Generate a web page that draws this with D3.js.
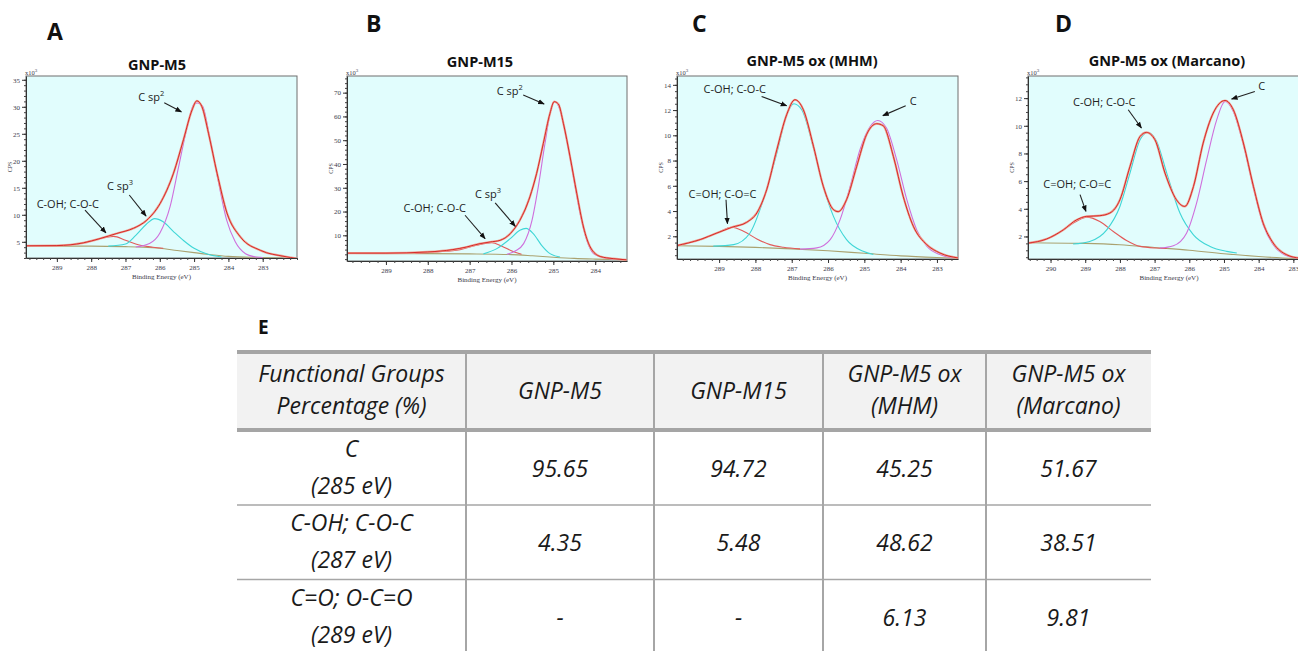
<!DOCTYPE html>
<html lang="en">
<head>
<meta charset="UTF-8" />
<title>XPS C1s - GNP samples</title>
<script src="https://d3js.org/d3.v7.min.js"></script>
<style>
  body { margin: 0; background: #fff; }
  svg { display: block; }
</style>
</head>
<body>
<svg id="fig" width="1298" height="651"></svg>
<script>
// spectra: [binding energy (eV), counts x10^3]
// A - GNP-M5
const aEnvelope = [[289.9,4.26],[289.0,4.3],[288.23,4.8],[287.74,5.6],[287.25,6.55],[286.77,7.5],[286.38,9.0],[285.99,12.1],[285.6,17.7],[285.31,23.9],[285.06,29.4],[284.92,31.1],[284.77,30.0],[284.58,25.1],[284.33,17.7],[284.04,10.3],[283.65,5.9],[283.06,3.4],[282.38,2.3],[282.0,1.9]];
const aBackground = [[289.9,4.2],[288.0,4.2],[287.0,4.1],[286.5,4.0],[286.0,3.8],[285.5,3.4],[285.0,3.0],[284.5,2.6],[284.0,2.3],[283.0,2.1],[282.0,1.9]];
const aCsp2 = [[286.7,4.05],[286.3,4.7],[286.0,6.6],[285.7,11.5],[285.45,18.9],[285.2,26.3],[285.0,30.5],[284.9,30.7],[284.75,30.1],[284.55,24.5],[284.3,16.4],[284.05,9.0],[283.8,5.0],[283.5,2.8],[283.2,2.2],[283.0,2.1]];
const aCsp3 = [[287.5,4.2],[287.0,4.6],[286.7,6.2],[286.4,8.2],[286.15,9.3],[285.9,8.7],[285.6,6.9],[285.3,5.2],[285.0,3.8],[284.6,2.7],[284.2,2.2]];
const aCOH = [[289.9,4.25],[289.0,4.3],[288.5,4.5],[288.0,5.2],[287.6,5.8],[287.35,6.0],[287.0,5.3],[286.6,4.4],[286.2,4.0],[285.9,3.8]];

// B - GNP-M15
const bEnvelope = [[289.93,2.5],[289.0,2.5],[288.0,3.0],[287.4,4.0],[287.07,5.1],[286.75,6.5],[286.51,7.2],[286.27,7.9],[286.03,10.7],[285.8,16.3],[285.56,26.2],[285.4,36.0],[285.24,48.6],[285.08,61.3],[284.98,66.2],[284.88,65.2],[284.76,57.1],[284.6,43.0],[284.44,27.6],[284.28,13.5],[284.12,5.1],[283.88,1.1],[283.57,0.2],[283.25,-0.3]];
const bBackground = [[289.93,2.4],[288.0,2.3],[287.0,2.2],[286.0,1.9],[285.5,1.4],[285.0,0.8],[284.5,0.3],[284.0,0.0],[283.25,-0.3]];
const bCsp2 = [[286.11,2.0],[285.91,3.4],[285.71,6.5],[285.51,16.3],[285.36,30.4],[285.2,48.6],[285.04,64.1],[284.96,66.2],[284.84,62.7],[284.68,50.0],[284.52,34.6],[284.36,19.1],[284.2,7.9],[284.04,2.3],[283.8,0.6],[283.57,0.0]];
const bCsp3 = [[286.67,2.2],[286.35,4.4],[286.03,8.6],[285.8,12.1],[285.65,12.9],[285.48,10.7],[285.28,5.8],[285.08,2.3],[284.84,0.9]];
const bCOH = [[288.3,2.4],[287.78,3.0],[287.23,4.0],[286.83,5.8],[286.47,6.9],[286.23,5.4],[285.99,3.4],[285.76,2.0]];

// C - GNP-M5 ox (MHM)
const cEnvelope = [[290.17,1.26],[289.52,1.74],[289.06,2.26],[288.65,2.71],[288.24,3.11],[287.96,3.85],[287.69,5.69],[287.41,8.86],[287.14,11.63],[286.91,12.82],[286.68,12.03],[286.4,9.12],[286.13,5.96],[285.85,4.11],[285.72,3.95],[285.49,4.9],[285.21,7.54],[284.94,10.05],[284.66,10.92],[284.48,10.76],[284.2,8.33],[283.93,5.17],[283.65,2.79],[283.28,1.34],[282.92,0.68],[282.41,0.28]];
const cBackground = [[290.17,1.25],[289.0,1.2],[288.0,1.12],[287.0,1.0],[286.0,0.85],[285.0,0.65],[284.0,0.45],[283.0,0.32],[282.41,0.26]];
const cCOO = [[290.17,1.26],[289.52,1.74],[289.06,2.26],[288.65,2.71],[288.33,2.4],[287.96,1.79],[287.6,1.34],[287.23,1.13],[286.77,1.0]];
const cCOH = [[289.16,1.22],[288.6,1.34],[288.15,2.26],[287.78,4.9],[287.41,8.6],[287.14,11.6],[286.94,12.5],[286.72,12.0],[286.4,9.0],[286.13,5.96],[285.85,3.58],[285.49,1.74],[285.03,0.81],[284.75,0.55]];
const cC = [[286.77,0.98],[286.31,1.08],[285.94,1.74],[285.67,3.3],[285.39,5.96],[285.12,8.86],[284.84,10.7],[284.63,11.18],[284.39,10.58],[284.11,8.07],[283.83,4.9],[283.56,2.53],[283.28,1.21],[282.92,0.55],[282.55,0.28]];

// D - GNP-M5 ox (Marcano)
const dEnvelope = [[290.64,1.52],[290.12,1.81],[289.63,2.48],[289.25,3.2],[288.96,3.45],[288.58,3.5],[288.29,3.69],[288.0,4.65],[287.71,7.06],[287.42,9.23],[287.23,9.52],[286.99,8.99],[286.7,6.58],[286.37,4.65],[286.13,4.17],[285.88,5.61],[285.6,8.75],[285.31,10.92],[284.97,11.83],[284.73,11.16],[284.44,8.75],[284.15,5.61],[283.87,2.96],[283.58,1.52],[283.19,0.67],[282.81,0.43],[282.6,0.4]];
const dBackground = [[290.64,1.55],[289.0,1.5],[288.0,1.4],[287.0,1.2],[286.0,1.0],[285.0,0.75],[284.0,0.55],[283.0,0.42],[282.6,0.4]];
const dCOO = [[290.64,1.52],[290.12,1.81],[289.63,2.48],[289.25,3.1],[288.96,3.4],[288.58,3.08],[288.19,2.36],[287.81,1.71],[287.42,1.28],[286.94,1.16],[286.65,1.13]];
const dCOH = [[289.35,1.45],[288.87,1.64],[288.38,2.48],[288.0,4.17],[287.71,6.58],[287.42,8.99],[287.2,9.52],[286.94,8.87],[286.65,6.58],[286.27,3.69],[285.88,2.12],[285.4,1.28],[284.92,0.92],[284.63,0.8]];
const dC = [[286.85,1.16],[286.46,1.33],[286.08,2.24],[285.79,4.41],[285.5,7.54],[285.21,10.43],[284.97,11.76],[284.73,11.04],[284.44,8.63],[284.15,5.49],[283.87,2.84],[283.58,1.4],[283.19,0.6],[282.81,0.41]];

// axis ticks
const xTicksA = [289, 288, 287, 286, 285, 284, 283];
const xTicksB = [289, 288, 287, 286, 285, 284];
const xTicksC = [289, 288, 287, 286, 285, 284, 283];
const xTicksD = [290, 289, 288, 287, 286, 285, 284, 283];
const yTicksA = [5, 10, 15, 20, 25, 30, 35];
const yTicksB = [10, 20, 30, 40, 50, 60, 70];
const yTicksC = [2, 4, 6, 8, 10, 12, 14];
const yTicksD = [2, 4, 6, 8, 10, 12];

// table E
const tableHeader = [["Functional Groups", "Percentage (%)"], ["GNP-M5"], ["GNP-M15"], ["GNP-M5 ox", "(MHM)"], ["GNP-M5 ox", "(Marcano)"]];
const groupNames = ["C", "C-OH; C-O-C", "C=O; O-C=O"];
const groupEnergies = ["(285 eV)", "(287 eV)", "(289 eV)"];
const pctC = ["95.65", "94.72", "45.25", "51.67"];
const pctCOH = ["4.35", "5.48", "48.62", "38.51"];
const pctCOO = ["-", "-", "6.13", "9.81"];

const RED = "#d21c1c", SALMON = "#eda597", MAGENTA = "#cf6fdc", CYAN = "#3fd6d6", OLIVE = "#aaa270", COMP_RED = "#e25a5a";

const panels = [
    { letter: "A", lx: 47, ly: 40, title: "GNP-M5", tx: 157, ty: 70, box: [26, 297, 76, 258], xDom: [289.9, 282.0], yDom: [2, 35.7],
      xTicks: xTicksA, yTicks: yTicksA, yMinor: 1,
      comps: [[aBackground, OLIVE], [aCOH, COMP_RED], [aCsp3, CYAN], [aCsp2, MAGENTA]], env: aEnvelope,
      notes: [
          { text: "C sp", sup: "2", at: [286.63, 31.0], from: [285.87, 30.73], to: [285.37, 29.06] },
          { text: "C sp", sup: "3", at: [287.54, 14.6], from: [286.89, 13.66], to: [286.40, 9.77] },
          { text: "C-OH; C-O-C", at: [289.59, 11.25], from: [288.18, 10.88], to: [287.57, 6.67] }] },
    { letter: "B", lx: 366, ly: 32, title: "GNP-M15", tx: 480, ty: 67, box: [347, 627, 76, 261], xDom: [289.93, 283.24], yDom: [-0.8, 77],
      xTicks: xTicksB, yTicks: yTicksB, yMinor: 2,
      comps: [[bBackground, OLIVE], [bCOH, COMP_RED], [bCsp3, CYAN], [bCsp2, MAGENTA]], env: bEnvelope,
      notes: [
          { text: "C sp", sup: "2", at: [286.35, 69.0], from: [285.72, 69.03], to: [285.22, 65.24] },
          { text: "C sp", sup: "3", at: [286.87, 25.5], from: [286.39, 23.6], to: [285.91, 13.8] },
          { text: "C-OH; C-O-C", at: [288.58, 19.8], from: [287.11, 18.44], to: [286.63, 8.6] }] },
    { letter: "C", lx: 692, ly: 32, title: "GNP-M5 ox (MHM)", tx: 812, ty: 66, box: [677, 958, 76, 259], xDom: [290.16, 282.42], yDom: [0.2, 14.7],
      xTicks: xTicksC, yTicks: yTicksC, yMinor: 0.5,
      comps: [[cBackground, OLIVE], [cCOO, COMP_RED], [cCOH, CYAN], [cC, MAGENTA]], env: cEnvelope,
      notes: [
          { text: "C-OH; C-O-C", at: [289.43, 13.35], from: [287.83, 13.08], to: [287.14, 12.34] },
          { text: "C", at: [283.75, 12.43], from: [283.86, 12.35], to: [284.49, 11.56] },
          { text: "C=OH; C-O=C", at: [289.84, 5.04], from: [288.81, 4.9], to: [288.77, 3.0] }] },
    { letter: "D", lx: 1055, ly: 32, title: "GNP-M5 ox (Marcano)", tx: 1167, ty: 66, box: [1028, 1310, 76, 259], xDom: [290.65, 282.52], yDom: [0.37, 13.6],
      xTicks: xTicksD, yTicks: yTicksD, yMinor: 0.5,
      comps: [[dBackground, OLIVE], [dCOO, COMP_RED], [dCOH, CYAN], [dC, MAGENTA]], env: dEnvelope,
      notes: [
          { text: "C-OH; C-O-C", at: [289.35, 11.45], from: [287.76, 11.16], to: [287.38, 9.84] },
          { text: "C", at: [284.01, 12.56], from: [284.11, 12.48], to: [284.78, 11.93] },
          { text: "C=OH; C-O=C", at: [290.21, 5.5], from: [289.15, 5.02], to: [288.98, 3.81] }] }
];

const svg = d3.select("#fig");
const defs = svg.append("defs");
defs.append("marker")
    .attr("id", "arrow")
    .attr("viewBox", "0 0 10 10")
    .attr("refX", 9).attr("refY", 5)
    .attr("markerWidth", 6).attr("markerHeight", 6)
    .attr("orient", "auto")
    .append("path").attr("d", "M0,1 L10,5 L0,9 Z").attr("fill", "#111");

const serif = "'Liberation Serif', 'DejaVu Serif', serif";
const sans = "'Open Sans', 'Noto Sans', sans-serif";

panels.forEach((p, i) => {
    const [x0, x1, y0, y1] = p.box;
    const x = d3.scaleLinear().domain(p.xDom).range([x0, x1]);
    const y = d3.scaleLinear().domain(p.yDom).range([y1, y0]);
    const g = svg.append("g");

    g.append("text").attr("x", p.lx).attr("y", p.ly).text(p.letter)
        .attr("font-family", sans).attr("font-weight", 700).attr("font-size", 23).attr("fill", "#111");

    g.append("text").attr("x", p.tx).attr("y", p.ty).text(p.title)
        .attr("text-anchor", "middle").attr("font-family", sans).attr("font-weight", 700)
        .attr("font-size", 14.5).attr("fill", "#111");

    g.append("rect").attr("x", x0).attr("y", y0).attr("width", x1 - x0).attr("height", y1 - y0)
        .attr("fill", "#e1fdfd").attr("stroke", "#6e6e6e").attr("stroke-width", 1);

    defs.append("clipPath").attr("id", `clip${i}`)
        .append("rect").attr("x", x0).attr("y", y0).attr("width", x1 - x0).attr("height", y1 - y0);

    const line = d3.line().x(d => x(d[0])).y(d => y(d[1])).curve(d3.curveMonotoneX);
    const plot = g.append("g").attr("clip-path", `url(#clip${i})`);

    p.comps.forEach(([data, color]) => {
        plot.append("path").attr("d", line(data)).attr("fill", "none")
            .attr("stroke", color).attr("stroke-width", 1.1);
    });
    plot.append("path").attr("d", line(p.env)).attr("fill", "none")
        .attr("stroke", SALMON).attr("stroke-width", 2.2);
    plot.append("path").attr("d", line(p.env)).attr("fill", "none")
        .attr("stroke", RED).attr("stroke-width", 0.9);

    // x axis: major + minor ticks
    const minorX = d3.range(Math.ceil(p.xDom[1] * 5), Math.floor(p.xDom[0] * 5) + 1).map(v => v / 5);
    g.append("g").attr("transform", `translate(0,${y1})`)
        .call(d3.axisBottom(x).tickValues(minorX).tickSize(2).tickSizeOuter(0).tickFormat(""))
        .call(a => a.select(".domain").attr("stroke", "#333"))
        .call(a => a.selectAll(".tick line").attr("stroke", "#444"));
    g.append("g").attr("transform", `translate(0,${y1})`)
        .call(d3.axisBottom(x).tickValues(p.xTicks).tickSize(4).tickSizeOuter(0).tickPadding(3).tickFormat(d3.format("d")))
        .call(a => a.select(".domain").remove())
        .call(a => a.selectAll(".tick line").attr("stroke", "#333"))
        .call(a => a.selectAll("text").attr("font-family", serif).attr("font-size", 7).attr("fill", "#3a3a4a"));

    // y axis
    const minorY = d3.range(Math.ceil(p.yDom[0] / p.yMinor), Math.floor(p.yDom[1] / p.yMinor) + 1).map(v => v * p.yMinor);
    g.append("g").attr("transform", `translate(${x0},0)`)
        .call(d3.axisLeft(y).tickValues(minorY).tickSize(2).tickSizeOuter(0).tickFormat(""))
        .call(a => a.select(".domain").attr("stroke", "#333"))
        .call(a => a.selectAll(".tick line").attr("stroke", "#444"));
    g.append("g").attr("transform", `translate(${x0},0)`)
        .call(d3.axisLeft(y).tickValues(p.yTicks).tickSize(4).tickSizeOuter(0).tickPadding(2))
        .call(a => a.select(".domain").remove())
        .call(a => a.selectAll(".tick line").attr("stroke", "#333"))
        .call(a => a.selectAll("text").attr("font-family", serif).attr("font-size", 7).attr("fill", "#3a3a4a"));

    // axis labels
    g.append("text").attr("x", (x0 + x1) / 2).attr("y", y1 + 21)
        .attr("text-anchor", "middle").attr("font-family", serif).attr("font-size", 7).attr("fill", "#3a3a4a")
        .text("Binding Energy (eV)");
    g.append("text").attr("transform", `translate(${x0 - 14},${(y0 + y1) / 2}) rotate(-90)`)
        .attr("text-anchor", "middle").attr("font-family", serif).attr("font-size", 6).attr("fill", "#3a3a4a")
        .text("CPS");
    const mult = g.append("text").attr("x", x0 - 1).attr("y", y0 - 1)
        .attr("font-family", serif).attr("font-size", 6.5).attr("fill", "#3a3a4a").text("x10");
    mult.append("tspan").attr("dy", -3).attr("font-size", 5).text("3");

    // annotations
    p.notes.forEach(n => {
        const t = g.append("text").attr("x", x(n.at[0])).attr("y", y(n.at[1]))
            .attr("font-family", sans).attr("font-size", 11).attr("fill", "#222").text(n.text);
        if (n.sup) t.append("tspan").attr("dy", -5).attr("font-size", 7.5).text(n.sup);
        g.append("line")
            .attr("x1", x(n.from[0])).attr("y1", y(n.from[1]))
            .attr("x2", x(n.to[0])).attr("y2", y(n.to[1]))
            .attr("stroke", "#222").attr("stroke-width", 1.1)
            .attr("marker-end", "url(#arrow)");
    });
});

// ---- table E ----
const colEdges = [237, 466, 654, 823, 986, 1151];
const rowEdges = [352, 430, 505, 579.5, 655];
const rows = [pctC, pctCOH, pctCOO];
const tbl = svg.append("g").attr("font-family", sans).attr("font-style", "italic").attr("fill", "#1a1a1a");

svg.append("text").attr("x", 258).attr("y", 334).text("E")
    .attr("font-family", sans).attr("font-weight", 700).attr("font-size", 19).attr("fill", "#111");

tbl.append("rect").attr("x", colEdges[0]).attr("y", rowEdges[0]).attr("width", colEdges[5] - colEdges[0])
    .attr("height", rowEdges[1] - rowEdges[0]).attr("fill", "#f2f2f2");

// vertical rules
tbl.selectAll("line.v").data(colEdges.slice(1, 5)).join("line")
    .attr("x1", d => d).attr("x2", d => d).attr("y1", rowEdges[0]).attr("y2", 651)
    .attr("stroke", "#a6a6a6").attr("stroke-width", 2);
// thin horizontal rules
tbl.selectAll("line.h").data(rowEdges.slice(2, 4)).join("line")
    .attr("x1", colEdges[0]).attr("x2", colEdges[5]).attr("y1", d => d).attr("y2", d => d)
    .attr("stroke", "#a6a6a6").attr("stroke-width", 1.5);
// thick rules
tbl.selectAll("line.t").data(rowEdges.slice(0, 2)).join("line")
    .attr("x1", colEdges[0]).attr("x2", colEdges[5]).attr("y1", d => d).attr("y2", d => d)
    .attr("stroke", "#a5a5a5").attr("stroke-width", 4);

const colMid = i => (colEdges[i] + colEdges[i + 1]) / 2;
const headMid = (rowEdges[0] + rowEdges[1]) / 2;
const FS = 23;

tableHeader.forEach((lines, c) => {
    const offs = lines.length === 1 ? [7.5] : [-9, 23];
    lines.forEach((s, k) => {
        tbl.append("text").attr("x", colMid(c)).attr("y", headMid + offs[k])
            .attr("text-anchor", "middle").attr("font-size", FS).text(s);
    });
});

rows.forEach((vals, r) => {
    const mid = (rowEdges[r + 1] + rowEdges[r + 2]) / 2;
    tbl.append("text").attr("x", colMid(0)).attr("y", mid - 11)
        .attr("text-anchor", "middle").attr("font-size", FS).text(groupNames[r]);
    tbl.append("text").attr("x", colMid(0)).attr("y", mid + 26)
        .attr("text-anchor", "middle").attr("font-size", FS).text(groupEnergies[r]);
    vals.forEach((v, c) => {
        tbl.append("text").attr("x", colMid(c + 1)).attr("y", mid + 9)
            .attr("text-anchor", "middle").attr("font-size", FS).text(v);
    });
});
</script>
</body>
</html>
